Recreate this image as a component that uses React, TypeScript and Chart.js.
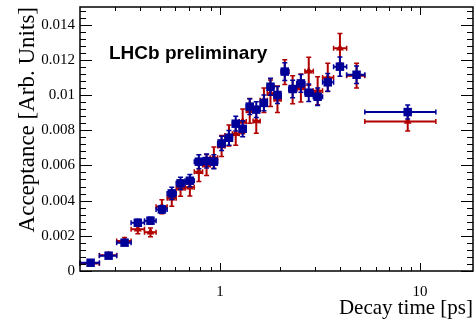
import React, { useEffect, useRef } from "react";
import { Chart, registerables } from "chart.js";

Chart.register(...registerables);

// Bin edges (decay time, ps) and bin centres
const binLow = [0.2, 0.25, 0.305, 0.36, 0.42, 0.48, 0.545, 0.605, 0.67, 0.745, 0.82, 0.895, 0.975, 1.06, 1.155, 1.25, 1.355, 1.465, 1.59, 1.725, 1.865, 2.025, 2.21, 2.42, 2.66, 2.93, 3.26, 3.7, 4.3, 5.3];
const binHigh = [0.25, 0.305, 0.36, 0.42, 0.48, 0.545, 0.605, 0.67, 0.745, 0.82, 0.895, 0.975, 1.06, 1.155, 1.25, 1.355, 1.465, 1.59, 1.725, 1.865, 2.025, 2.21, 2.42, 2.66, 2.93, 3.26, 3.7, 4.3, 5.3, 12.0];
const timeCenters = [0.226, 0.278, 0.334, 0.389, 0.45, 0.513, 0.575, 0.636, 0.708, 0.785, 0.858, 0.933, 1.02, 1.11, 1.2, 1.3, 1.41, 1.52, 1.66, 1.79, 1.94, 2.11, 2.31, 2.54, 2.78, 3.08, 3.46, 3.98, 4.82, 8.68];

// Blue squares
const accBlue = [0.00047, 0.00087, 0.00161, 0.00274, 0.00286, 0.0035, 0.00441, 0.00498, 0.00513, 0.00621, 0.00625, 0.00621, 0.00725, 0.00757, 0.00837, 0.00808, 0.00934, 0.00917, 0.00955, 0.01047, 0.0100, 0.01133, 0.01034, 0.01066, 0.01013, 0.0099, 0.01072, 0.01161, 0.01115, 0.00903];
const errBlue = [0.00008, 0.0001, 0.00013, 0.0002, 0.0002, 0.00022, 0.00035, 0.00035, 0.00035, 0.0004, 0.0004, 0.0004, 0.0004, 0.00042, 0.00042, 0.00045, 0.00045, 0.00045, 0.00045, 0.00048, 0.00048, 0.0005, 0.0005, 0.0005, 0.0005, 0.0005, 0.0005, 0.00055, 0.0005, 0.0004];

// Red triangles
const accRed = [0.00043, 0.0009, 0.0017, 0.00237, 0.0022, 0.00365, 0.00413, 0.0047, 0.00476, 0.00564, 0.00602, 0.00644, 0.0071, 0.0077, 0.0078, 0.0085, 0.0091, 0.00852, 0.0097, 0.0101, 0.00976, 0.0113, 0.0103, 0.0104, 0.01135, 0.01024, 0.0110, 0.01265, 0.0111, 0.0085];
const errRed = [0.0001, 0.00015, 0.0002, 0.00025, 0.00025, 0.0004, 0.00045, 0.00045, 0.0005, 0.00055, 0.0006, 0.0006, 0.0006, 0.0006, 0.00065, 0.0007, 0.0007, 0.0007, 0.0007, 0.00075, 0.00075, 0.0007, 0.0008, 0.0008, 0.0008, 0.0008, 0.0008, 0.00085, 0.0007, 0.00055];

const yTickValues = [0, 0.002, 0.004, 0.006, 0.008, 0.01, 0.012, 0.014];
const xTickValues = [1, 10];
const xMinorTicks = [0.3, 0.4, 0.5, 0.6, 0.7, 0.8, 0.9, 2, 3, 4, 5, 6, 7, 8, 9];

const BLUE = "#000099";
const RED = "#b00000";
const SERIF = "'Liberation Serif', 'Times New Roman', serif";

const errorBarsPlugin = {
  id: "errorBars",
  beforeDatasetDraw(chart: any, args: any) {
    const ds: any = chart.data.datasets[args.index];
    if (!ds.yErr) return;
    const { ctx, scales } = chart;
    const xs = scales.x;
    const ys = scales.y;
    ctx.save();
    ctx.strokeStyle = ds.barColor;
    ctx.lineCap = "butt";
    const cap = 2.5;
    ds.data.forEach((pt: any, i: number) => {
      const px = xs.getPixelForValue(pt.x);
      const py = ys.getPixelForValue(pt.y);
      const xl = xs.getPixelForValue(ds.xLow[i]);
      const xh = xs.getPixelForValue(ds.xHigh[i]);
      const yl = ys.getPixelForValue(pt.y - ds.yErr[i]);
      const yh = ys.getPixelForValue(pt.y + ds.yErr[i]);
      ctx.lineWidth = 2;
      ctx.beginPath();
      ctx.moveTo(xl, py);
      ctx.lineTo(xh, py);
      ctx.moveTo(px, yl);
      ctx.lineTo(px, yh);
      ctx.stroke();
      ctx.lineWidth = 1.5;
      ctx.beginPath();
      ctx.moveTo(xl, py - cap);
      ctx.lineTo(xl, py + cap);
      ctx.moveTo(xh, py - cap);
      ctx.lineTo(xh, py + cap);
      ctx.moveTo(px - cap, yl);
      ctx.lineTo(px + cap, yl);
      ctx.moveTo(px - cap, yh);
      ctx.lineTo(px + cap, yh);
      ctx.stroke();
    });
    ctx.restore();
  },
};

const framePlugin = {
  id: "frameTicks",
  afterDraw(chart: any) {
    const { ctx, chartArea: a, scales } = chart;
    const xs = scales.x;
    const ys = scales.y;
    ctx.save();
    ctx.strokeStyle = "#000";
    ctx.lineWidth = 1;
    ctx.beginPath();
    for (let i = 0; i * 0.0004 <= 0.0150001; i++) {
      const p = Math.round(ys.getPixelForValue(i * 0.0004)) + 0.5;
      const len = i % 5 === 0 ? 12 : 6;
      ctx.moveTo(a.left, p);
      ctx.lineTo(a.left + len, p);
      ctx.moveTo(a.right, p);
      ctx.lineTo(a.right - len, p);
    }
    const allX = [...xMinorTicks.map((v) => [v, 4]), ...xTickValues.map((v) => [v, 8])];
    for (const [v, len] of allX) {
      const p = Math.round(xs.getPixelForValue(v)) + 0.5;
      ctx.moveTo(p, a.bottom);
      ctx.lineTo(p, a.bottom - len);
      ctx.moveTo(p, a.top);
      ctx.lineTo(p, a.top + len);
    }
    ctx.stroke();
    ctx.lineWidth = 1.5;
    ctx.strokeRect(a.left, a.top, a.right - a.left, a.bottom - a.top);
    // label
    ctx.fillStyle = "#000";
    ctx.font = "bold 19px 'Liberation Sans', Arial, sans-serif";
    ctx.textBaseline = "alphabetic";
    ctx.textAlign = "left";
    ctx.fillText("LHCb preliminary", 109, 59);
    ctx.restore();
  },
};

export default function App() {
  const ref = useRef<HTMLCanvasElement>(null);
  useEffect(() => {
    if (!ref.current) return;
    const chart = new Chart(ref.current, {
      type: "scatter",
      data: {
        datasets: [
          {
            label: "blue",
            data: timeCenters.map((t, i) => ({ x: t, y: accBlue[i] })),
            pointStyle: "rect",
            pointRadius: 6,
            pointHoverRadius: 6,
            pointBackgroundColor: BLUE,
            pointBorderColor: BLUE,
            pointBorderWidth: 0,
            showLine: false,
            clip: false,
            xLow: binLow,
            xHigh: binHigh,
            yErr: errBlue,
            barColor: BLUE,
          } as any,
          {
            label: "red",
            data: timeCenters.map((t, i) => ({ x: t, y: accRed[i] })),
            pointStyle: "triangle",
            pointRadius: 4.5,
            pointHoverRadius: 4.5,
            pointBackgroundColor: RED,
            pointBorderColor: RED,
            pointBorderWidth: 0,
            showLine: false,
            clip: false,
            xLow: binLow,
            xHigh: binHigh,
            yErr: errRed,
            barColor: RED,
          } as any,
        ],
      },
      options: {
        responsive: false,
        animation: false,
        events: [],
        layout: { autoPadding: false, padding: { left: 0, top: 7, right: 1, bottom: 0 } },
        plugins: { legend: { display: false }, tooltip: { enabled: false } },
        scales: {
          x: {
            type: "logarithmic",
            min: 0.2,
            max: 18.4,
            grid: { display: false, drawTicks: false },
            border: { display: false },
            afterBuildTicks: (s: any) => {
              s.ticks = xTickValues.map((v) => ({ value: v }));
            },
            afterFit: (s: any) => {
              s.height = 50;
              s.paddingLeft = 0;
              s.paddingRight = 0;
            },
            ticks: {
              padding: 12,
              color: "#000",
              maxRotation: 0,
              autoSkip: false,
              font: { family: SERIF, size: 15 },
              callback: (v: any) => String(v),
            },
            title: {
              display: true,
              text: "Decay time [ps]",
              align: "end",
              color: "#000",
              font: { family: SERIF, size: 21 },
              padding: { top: 0, bottom: 0 },
            },
          },
          y: {
            type: "linear",
            min: 0,
            max: 0.015,
            grid: { display: false, drawTicks: false },
            border: { display: false },
            afterBuildTicks: (s: any) => {
              s.ticks = yTickValues.map((v) => ({ value: v }));
            },
            afterFit: (s: any) => {
              s.width = 80;
              s.paddingTop = 0;
              s.paddingBottom = 0;
            },
            ticks: {
              padding: 5,
              color: "#000",
              autoSkip: false,
              font: { family: SERIF, size: 15 },
              callback: (v: any) => String(parseFloat(Number(v).toFixed(3))),
            },
            title: {
              display: true,
              text: "Acceptance [Arb. Units]",
              align: "end",
              color: "#000",
              font: { family: SERIF, size: 23 },
              padding: { top: 14, bottom: 0 },
            },
          },
        },
      },
      plugins: [errorBarsPlugin, framePlugin],
    });
    return () => chart.destroy();
  }, []);
  return (
    <div style={{ position: "absolute", left: 0, top: 0, width: 474, height: 321, background: "#fff" }}>
      <canvas ref={ref} width={474} height={321} />
    </div>
  );
}
